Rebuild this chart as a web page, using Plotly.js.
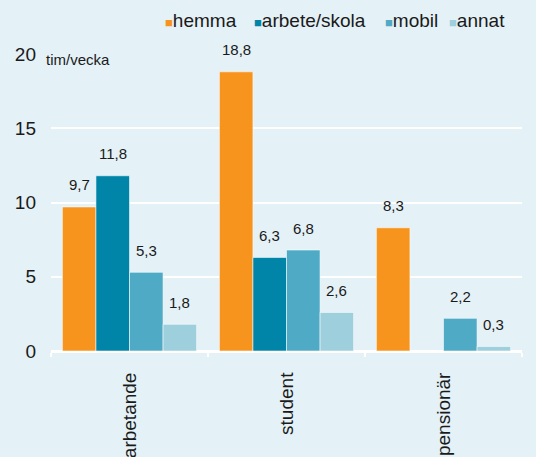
<!DOCTYPE html>
<html><head><meta charset="utf-8">
<script src="https://cdn.plot.ly/plotly-3.0.1.min.js"></script>
<style>html,body{margin:0;padding:0;background:#e4f1f6;}</style>
</head><body>
<div id="chart" style="width:536px;height:457px;"></div>
<script>
const categories = ["arbetande", "student", "pensionär"];
const seriesNames = ["hemma", "arbete/skola", "mobil", "annat"];
const hemma = [9.7, 18.8, 8.3];
const arbeteSkola = [11.8, 6.3, null];
const mobil = [5.3, 6.8, 2.2];
const annat = [1.8, 2.6, 0.3];
const yTicks = [0, 5, 10, 15, 20];
const unitLabel = "tim/vecka";

const values = [hemma, arbeteSkola, mobil, annat];
const colors = ["#f7941d", "#0085a9", "#4faac6", "#9dcfdd"];
const bg = "#e4f1f6";
const font = "Liberation Sans, Arial, Helvetica, sans-serif";
const bargap = 0.145;
const W = 536, H = 457;
const m = {l: 51, r: 14, t: 54, b: 106};
const pw = W - m.l - m.r, ph = H - m.t - m.b;
const px2x = p => (p - m.l) / pw;
const py2y = p => 1 - (p - m.t) / ph;
const fmt = v => v.toFixed(1).replace(".", ",");

const traces = values.map((vals, s) => ({
  type: "bar", name: seriesNames[s], x: categories, y: vals,
  marker: {color: colors[s], line: {color: "rgba(255,255,255,0.55)", width: 1}},
  hoverinfo: "none"
}));

const annotations = [];
const bw = (1 - bargap) / seriesNames.length;
values.forEach((vals, s) => {
  vals.forEach((v, i) => {
    if (v === null) return;
    annotations.push({
      x: i + (s - (seriesNames.length - 1) / 2) * bw, y: v, xref: "x", yref: "y",
      text: fmt(v), showarrow: false, yanchor: "middle", yshift: 22,
      font: {family: font, size: 15, color: "#1a1a1a"}
    });
  });
});

// unit label
annotations.push({
  xref: "paper", yref: "paper", x: px2x(43), y: py2y(59), xanchor: "left", yanchor: "middle",
  text: unitLabel, showarrow: false, bgcolor: bg, borderpad: 2,
  font: {family: font, size: 15, color: "#1a1a1a"}
});

// legend
const legendX = [163, 252, 383, 447];
seriesNames.forEach((n, s) => {
  annotations.push({
    xref: "paper", yref: "paper", x: px2x(legendX[s]), y: py2y(20), xanchor: "left", yanchor: "middle",
    text: '<span style="color:' + colors[s] + ';font-size:13px">■</span>' + n,
    showarrow: false, font: {family: font, size: 19, color: "#1a1a1a"}
  });
});

const layout = {
  width: W, height: H, margin: m,
  paper_bgcolor: bg, plot_bgcolor: bg,
  barmode: "group", bargap: bargap, bargroupgap: 0,
  showlegend: false,
  font: {family: font, color: "#1a1a1a"},
  xaxis: {
    type: "category", showgrid: false, showline: true, linecolor: "#ffffff", linewidth: 2,
    ticks: "outside", tickson: "boundaries", ticklen: 4, tickcolor: "#ffffff", tickwidth: 2,
    tickangle: -90, ticklabelstandoff: 12,
    tickfont: {family: font, size: 19, color: "#1a1a1a"}
  },
  yaxis: {
    range: [0, 20], tickvals: yTicks, ticktext: yTicks.map(String),
    showgrid: true, gridcolor: "#ffffff", gridwidth: 2,
    zeroline: true, zerolinecolor: "#ffffff", zerolinewidth: 2,
    showline: false, ticks: "", ticklabelstandoff: 14,
    tickfont: {family: font, size: 19, color: "#1a1a1a"}
  },
  annotations: annotations
};

Plotly.newPlot("chart", traces, layout, {displayModeBar: false, staticPlot: true});
</script>
</body></html>
